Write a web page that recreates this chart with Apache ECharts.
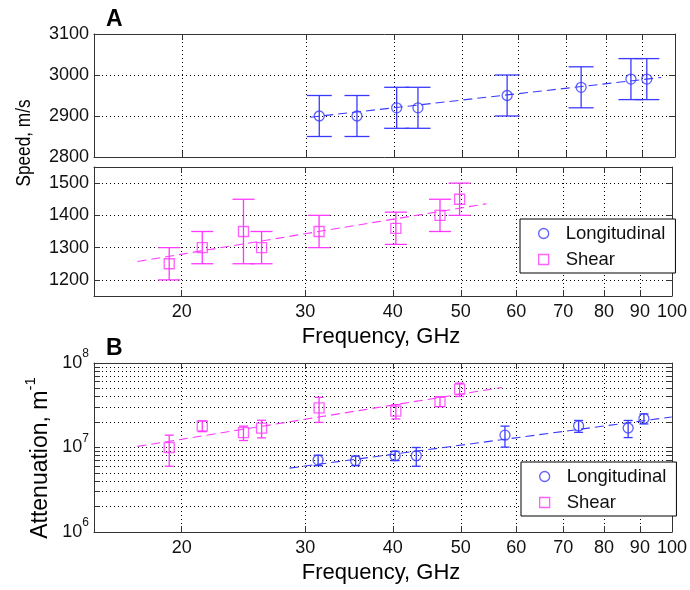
<!DOCTYPE html>
<html><head><meta charset="utf-8">
<script src="https://cdn.jsdelivr.net/npm/echarts@6/dist/echarts.min.js"></script>
<style>html,body{margin:0;padding:0;background:#fff}#c{width:690px;height:590px}</style>
</head><body><div id="c"></div>
<script>
// ---- axis ticks ----
const freqMin = 15, freqMax = 100;
const freqTicks = [20, 30, 40, 50, 60, 70, 80, 90, 100];
const lonSpeedTicks = [2800, 2900, 3000, 3100];
const shSpeedRange = [1150, 1550];
const shSpeedTicks = [1200, 1300, 1400, 1500];
const attRange = [1e6, 1e8];
const attMajor = [1e6, 1e7, 1e8];
const attMinor = [2e6, 3e6, 4e6, 5e6, 6e6, 7e6, 8e6, 9e6, 2e7, 3e7, 4e7, 5e7, 6e7, 7e7, 8e7, 9e7];

// ---- data ----
const lonFreq = [31.3, 35.4, 40.3, 43.2, 57.8, 73.6, 86.6, 91.2];
const lonSpeed = [2900, 2900, 2920, 2920, 2950, 2970, 2990, 2990];
const lonSpeedErr = [50, 50, 50, 50, 50, 50, 50, 50];
const lonAtt = [7.1e6, 7.0e6, 8.0e6, 8.0e6, 1.4e7, 1.8e7, 1.7e7, 2.2e7];
const lonAttErr = [1.0e6, 0.9e6, 1.0e6, 2.0e6, 3.9e6, 2.9e6, 3.9e6, 3.0e6];

const shFreq = [19.2, 21.4, 24.5, 26.0, 31.4, 40.4, 46.7, 49.8];
const shSpeed = [1250, 1300, 1350, 1300, 1350, 1360, 1400, 1450];
const shSpeedErr = [50, 50, 100, 50, 50, 50, 50, 50];
const shAtt = [1.0e7, 1.8e7, 1.5e7, 1.7e7, 2.95e7, 2.7e7, 3.5e7, 4.9e7];
const shAttErr = [4.0e6, 2.6e6, 2.9e6, 4.0e6, 9.7e6, 5.2e6, 4.5e6, 8.8e6];

// fitted trend lines (end points)
const lonSpeedFitFreq = [30.4, 95.6];
const lonSpeedFit = [2897, 2994];
const shSpeedFitFreq = [17.3, 54.4];
const shSpeedFit = [1257, 1436];
const lonAttFitFreq = [28.5, 99.9];
const lonAttFit = [5.7e6, 2.3e7];
const shAttFitFreq = [17.3, 57.2];
const shAttFit = [1.03e7, 5.14e7];

const L = Math.log10;
const FONT = "'Liberation Sans', Arial, Helvetica, sans-serif";
const BLUE = '#3a3aff';
const MAG = '#ff38ff';
const FRAME = '#333333';

const grids = [
  {left: 94, top: 34, width: 581, height: 123},
  {left: 94, top: 167, width: 581, height: 129},
  {left: 94, top: 363, width: 581, height: 169}
];

function xAx(g, pos, labels, split) {
  return {
    type: 'value', gridIndex: g, position: pos, min: L(freqMin), max: L(freqMax),
    axisLine: {show: true, onZero: false, lineStyle: {color: FRAME, width: 1}},
    axisTick: {show: true, inside: true, length: 6, customValues: freqTicks.map(L), lineStyle: {color: FRAME}},
    axisLabel: {show: labels, customValues: freqTicks.map(L), formatter: v => String(Math.round(Math.pow(10, v))),
      fontSize: 18, color: '#111', margin: 7, fontFamily: FONT, hideOverlap: false},
    splitLine: {show: split, lineStyle: {type: [1, 3], color: '#000', width: 1}}
  };
}
function yAx(g, pos, min, max, ticks, labels, fmt, rich) {
  return {
    type: 'value', gridIndex: g, position: pos, min: min, max: max,
    axisLine: {show: true, onZero: false, lineStyle: {color: FRAME, width: 1}},
    axisTick: {show: true, inside: true, length: 6, customValues: ticks, lineStyle: {color: FRAME}},
    axisLabel: {show: !!labels, customValues: labels ? labels : undefined, formatter: fmt, rich: rich,
      fontSize: 18, color: '#111', margin: 5, fontFamily: FONT, hideOverlap: false},
    splitLine: {show: pos === 'left', lineStyle: {type: [1, 3], color: '#000', width: 1}}
  };
}

const attTickVals = attMajor.concat(attMinor).map(L);
const supRich = {b: {fontSize: 18, lineHeight: 30, fontFamily: FONT, color: '#111'}, s: {fontSize: 12, verticalAlign: 'top', fontFamily: FONT, color: '#111'}};

const xAxis = [
  xAx(0, 'bottom', false, true), xAx(0, 'top', false, false),
  xAx(1, 'bottom', true, true), xAx(1, 'top', false, false),
  xAx(2, 'bottom', true, true), xAx(2, 'top', false, false)
];
const yAxis = [
  yAx(0, 'left', lonSpeedTicks[0], lonSpeedTicks[3], lonSpeedTicks, lonSpeedTicks, v => String(v)),
  yAx(0, 'right', lonSpeedTicks[0], lonSpeedTicks[3], lonSpeedTicks, false),
  yAx(1, 'left', shSpeedRange[0], shSpeedRange[1], shSpeedTicks, shSpeedTicks, v => String(v)),
  yAx(1, 'right', shSpeedRange[0], shSpeedRange[1], shSpeedTicks, false),
  yAx(2, 'left', L(attRange[0]), L(attRange[1]), attTickVals, attMajor.map(L), v => '{b|10}{s|' + Math.round(v) + '}', supRich),
  yAx(2, 'right', L(attRange[0]), L(attRange[1]), attTickVals, false)
];

function errSeries(name, xi, yi, freq, val, err, color, capW, logY) {
  const tf = logY ? L : (v => v);
  return {
    type: 'custom', name: name, xAxisIndex: xi, yAxisIndex: yi, z: 3,
    data: freq.map((f, i) => [L(f), tf(val[i] - err[i]), tf(val[i] + err[i])]),
    renderItem: function (params, api) {
      const lo = api.coord([api.value(0), api.value(1)]);
      const hi = api.coord([api.value(0), api.value(2)]);
      const st = {stroke: color, lineWidth: 1.3, fill: null};
      const h = capW / 2;
      return {type: 'group', children: [
        {type: 'line', shape: {x1: lo[0], y1: lo[1], x2: hi[0], y2: hi[1]}, style: st},
        {type: 'line', shape: {x1: lo[0] - h, y1: lo[1], x2: lo[0] + h, y2: lo[1]}, style: st},
        {type: 'line', shape: {x1: hi[0] - h, y1: hi[1], x2: hi[0] + h, y2: hi[1]}, style: st}
      ]};
    }
  };
}
function markSeries(name, xi, yi, freq, val, color, symbol, logY) {
  const tf = logY ? L : (v => v);
  return {
    type: 'scatter', name: name, xAxisIndex: xi, yAxisIndex: yi, z: 4,
    symbol: symbol, symbolSize: 10,
    itemStyle: {color: 'rgba(255,255,255,0)', borderColor: color, borderWidth: 1.3},
    data: freq.map((f, i) => [L(f), tf(val[i])])
  };
}
function fitSeries(name, xi, yi, freq, val, color, logY) {
  const tf = logY ? L : (v => v);
  return {
    type: 'line', name: name, xAxisIndex: xi, yAxisIndex: yi, z: 2, symbol: 'none', silent: true,
    lineStyle: {color: color, width: 1.1, type: [9, 5]},
    data: freq.map((f, i) => [L(f), tf(val[i])])
  };
}
const SQ = 'path://M0,0H10V10H0Z';

const series = [
  fitSeries('lonSpeedFit', 0, 0, lonSpeedFitFreq, lonSpeedFit, BLUE, false),
  errSeries('lonSpeedErr', 0, 0, lonFreq, lonSpeed, lonSpeedErr, BLUE, 25, false),
  markSeries('Longitudinal', 0, 0, lonFreq, lonSpeed, BLUE, 'circle', false),

  fitSeries('shSpeedFit', 2, 2, shSpeedFitFreq, shSpeedFit, MAG, false),
  errSeries('shSpeedErr', 2, 2, shFreq, shSpeed, shSpeedErr, MAG, 22, false),
  markSeries('Shear', 2, 2, shFreq, shSpeed, MAG, 'rect', false),

  fitSeries('lonAttFit', 4, 4, lonAttFitFreq, lonAttFit, BLUE, true),
  errSeries('lonAttErr', 4, 4, lonFreq, lonAtt, lonAttErr, BLUE, 9, true),
  markSeries('Longitudinal', 4, 4, lonFreq, lonAtt, BLUE, 'circle', true),

  fitSeries('shAttFit', 4, 4, shAttFitFreq, shAttFit, MAG, true),
  errSeries('shAttErr', 4, 4, shFreq, shAtt, shAttErr, MAG, 9, true),
  markSeries('Shear', 4, 4, shFreq, shAtt, MAG, 'rect', true)
];

function legendAt(left, top) {
  return {
    left: left, top: top, orient: 'vertical', itemWidth: 34, itemHeight: 10, itemGap: 7,
    padding: [5, 10, 4, 18], backgroundColor: '#fff', borderColor: '#000', borderWidth: 1, borderRadius: 0,
    selectedMode: false,
    textStyle: {fontSize: 18.5, color: '#111', fontFamily: FONT},
    data: [
      {name: 'Longitudinal', icon: 'circle', itemStyle: {color: '#fff', borderColor: BLUE, borderWidth: 1.3}},
      {name: 'Shear', icon: SQ, itemStyle: {color: '#fff', borderColor: MAG, borderWidth: 1.3}}
    ]
  };
}

const graphic = [
  {type: 'text', left: 106, top: 8, style: {text: 'A', font: 'bold 23px ' + FONT, fill: '#000'}},
  {type: 'text', left: 106, top: 337, style: {text: 'B', font: 'bold 23px ' + FONT, fill: '#000'}},
  {type: 'text', x: 24, y: 143, rotation: Math.PI / 2, scaleX: 0.82,
    style: {text: 'Speed, m/s', font: '21px ' + FONT, fill: '#000', align: 'center', verticalAlign: 'middle'}},
  {type: 'text', x: 41, y: 458, rotation: Math.PI / 2,
    style: {text: '{a|Attenuation, m}{s|-1}', align: 'center', verticalAlign: 'middle',
      rich: {a: {fontSize: 23, lineHeight: 36, fontFamily: FONT, fill: '#000', color: '#000'},
             s: {fontSize: 15, verticalAlign: 'top', fontFamily: FONT, fill: '#000', color: '#000'}}}},
  {type: 'text', x: 381, y: 337, style: {text: 'Frequency, GHz', font: '22px ' + FONT, fill: '#000', align: 'center', verticalAlign: 'middle'}},
  {type: 'text', x: 381, y: 573, style: {text: 'Frequency, GHz', font: '22px ' + FONT, fill: '#000', align: 'center', verticalAlign: 'middle'}}
];

const chart = echarts.init(document.getElementById('c'), null, {renderer: 'canvas'});
chart.setOption({
  animation: false,
  backgroundColor: '#fff',
  grid: grids,
  xAxis: xAxis,
  yAxis: yAxis,
  legend: [legendAt(520, 219), legendAt(521, 462)],
  graphic: graphic,
  series: series
});
</script></body></html>
